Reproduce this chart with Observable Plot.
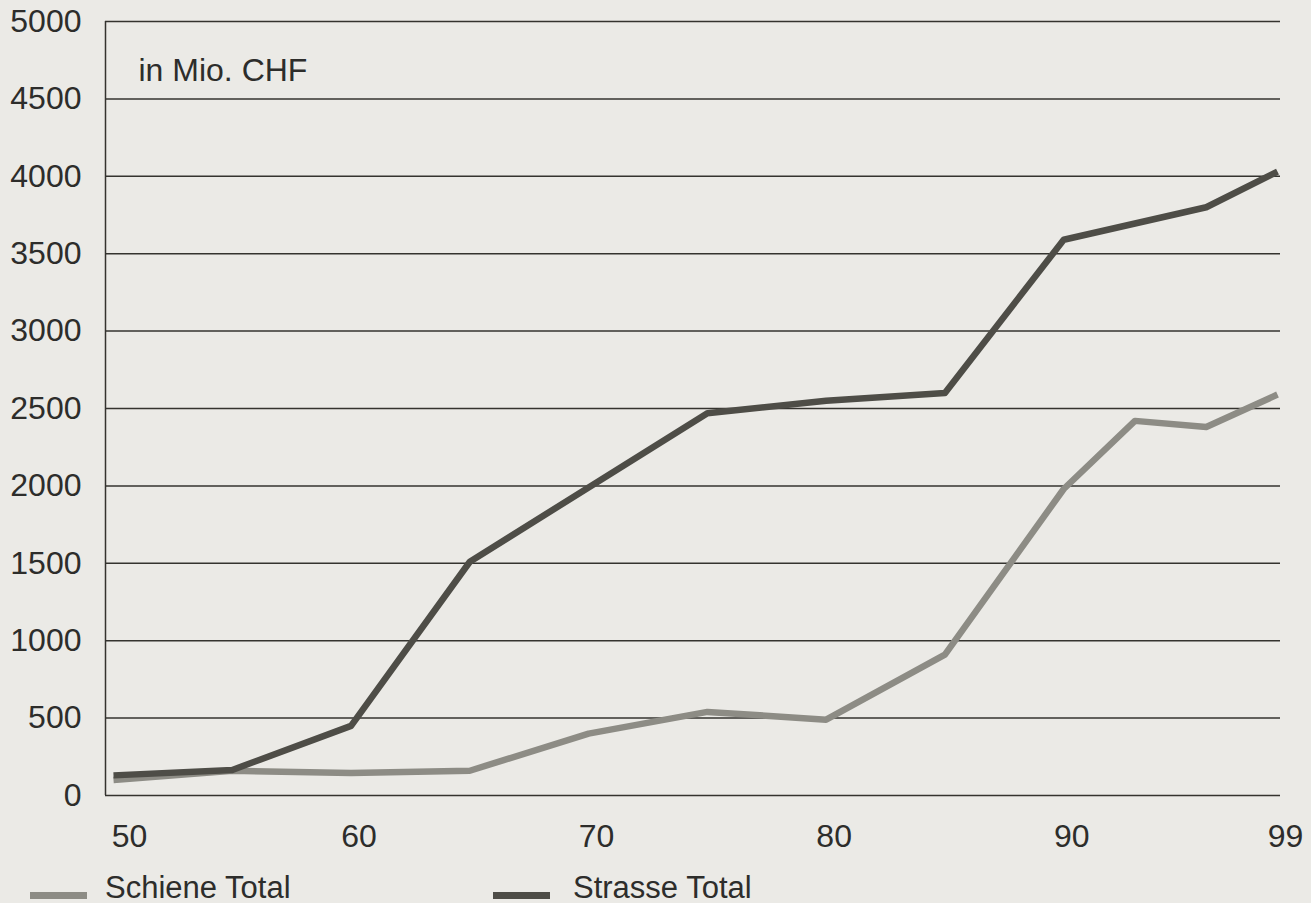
<!DOCTYPE html>
<html>
<head>
<meta charset="utf-8">
<script src="https://cdn.jsdelivr.net/npm/d3@7"></script>
<script src="https://cdn.jsdelivr.net/npm/@observablehq/plot@0.6"></script>
<style>
  html, body { margin: 0; padding: 0; background: #ebeae6; overflow: hidden; }
  #wrap { position: relative; width: 1311px; height: 903px; font-family: "Liberation Sans", Arial, Helvetica, sans-serif; }
  #legend { position: absolute; left: 0; top: 870px; width: 1311px; height: 33px; }
  .sw { position: absolute; height: 7px; top: 22px; }
  .lt { position: absolute; top: 2px; font-size: 31px; line-height: 31px; color: #2d2d2b; white-space: nowrap; }
</style>
</head>
<body>
<div id="wrap">
  <div id="chart"></div>
  <div id="legend"></div>
</div>
<script>
// ---- data (values in Mio. CHF) ----
const schieneYears  = [50, 55, 60, 65, 70, 75, 80, 85, 90, 93, 96, 99];
const schieneValues = [100, 160, 145, 160, 400, 540, 490, 910, 1980, 2420, 2380, 2590];
const strasseYears  = [50, 55, 60, 65, 70, 75, 80, 85, 90, 96, 99];
const strasseValues = [130, 165, 450, 1510, 1990, 2470, 2550, 2600, 3590, 3800, 4030];
const seriesNames   = ["Schiene Total", "Strasse Total"];
const seriesColors  = ["#8d8c85", "#4e4d47"];
const yTicks = [0, 500, 1000, 1500, 2000, 2500, 3000, 3500, 4000, 4500, 5000];
const xTicks = [50, 60, 70, 80, 90, 99];
const unitLabel = "in Mio. CHF";

const schiene = schieneYears.map((yr, i) => ({year: yr, value: schieneValues[i]}));
const strasse = strasseYears.map((yr, i) => ({year: yr, value: strasseValues[i]}));

const ink = "#2d2d2b";
const fs = 32;
const chart = Plot.plot({
  width: 1311,
  height: 870,
  marginLeft: 105,
  marginRight: 31,
  marginTop: 21,
  marginBottom: 75,
  style: {background: "transparent", fontFamily: "'Liberation Sans', Arial, Helvetica, sans-serif", fontSize: fs + "px", color: ink},
  x: {domain: [50, 99], insetLeft: 8, insetRight: 3, axis: null},
  y: {domain: [0, 5000], axis: null},
  marks: [
    Plot.ruleY(yTicks, {stroke: "#34332f", strokeWidth: 1.5}),
    Plot.ruleX([50], {y1: 0, y2: 5000, dx: -8, stroke: "#34332f", strokeWidth: 1.5}),
    Plot.line(schiene, {x: "year", y: "value", stroke: seriesColors[0], strokeWidth: 6.5, strokeLinejoin: "round", strokeLinecap: "butt"}),
    Plot.line(strasse, {x: "year", y: "value", stroke: seriesColors[1], strokeWidth: 6.5, strokeLinejoin: "round", strokeLinecap: "butt"}),
    Plot.text(yTicks, {y: d => d, text: d => String(d), frameAnchor: "left", textAnchor: "end", dx: -24, fill: ink, fontSize: fs}),
    Plot.text(xTicks.slice(0, 1), {x: d => d, text: d => String(d), frameAnchor: "bottom", dy: 51, dx: 16, fill: ink, fontSize: fs}),
    Plot.text(xTicks.slice(1), {x: d => d, text: d => String(d), frameAnchor: "bottom", dy: 51, dx: 8, fill: ink, fontSize: fs}),
    Plot.text([unitLabel], {text: d => d, frameAnchor: "top-left", textAnchor: "start", dx: 33, dy: 37, fill: ink, fontSize: fs})
  ]
});
document.getElementById("chart").appendChild(chart);

// legend below the chart
const legend = document.getElementById("legend");
const legendPos = [{sw: 30, tx: 105}, {sw: 493, tx: 573}];
seriesNames.forEach((name, i) => {
  const s = document.createElement("div");
  s.className = "sw";
  s.style.left = legendPos[i].sw + "px";
  s.style.width = "57px";
  s.style.background = seriesColors[i];
  legend.appendChild(s);
  const t = document.createElement("div");
  t.className = "lt";
  t.style.left = legendPos[i].tx + "px";
  t.textContent = name;
  legend.appendChild(t);
});
</script>
</body>
</html>
